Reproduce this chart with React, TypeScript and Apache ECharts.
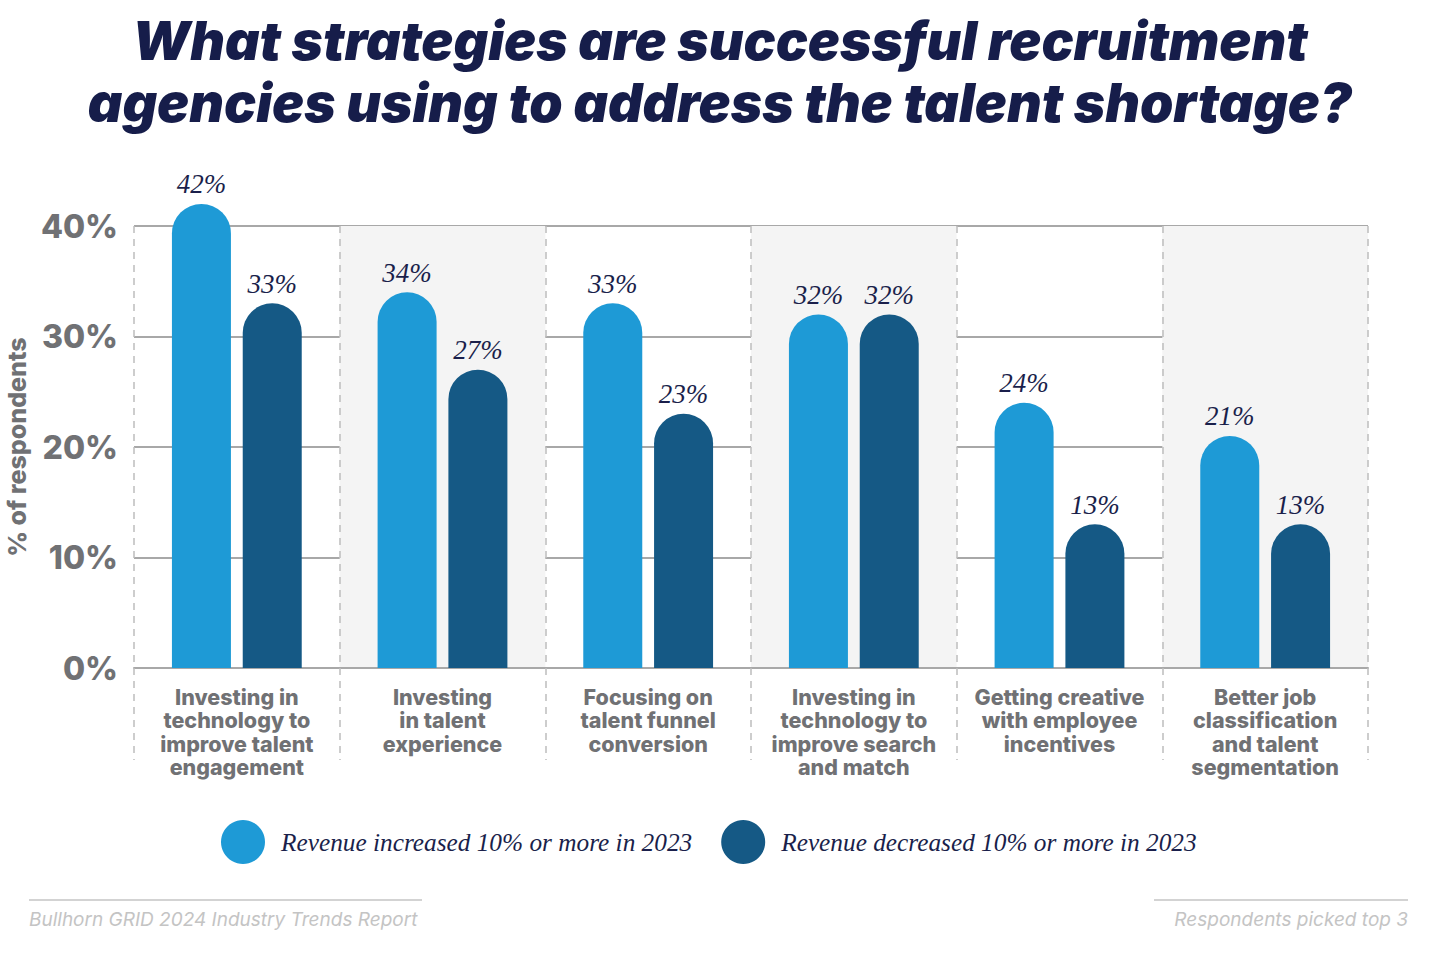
import React, { useEffect, useRef } from "react";
import * as echarts from "echarts";

const categories = [
  "Investing in\ntechnology to\nimprove talent\nengagement",
  "Investing\nin talent\nexperience",
  "Focusing on\ntalent funnel\nconversion",
  "Investing in\ntechnology to\nimprove search\nand match",
  "Getting creative\nwith employee\nincentives",
  "Better job\nclassification\nand talent\nsegmentation",
];
const increasedValues = [42, 34, 33, 32, 24, 21];
const decreasedValues = [33, 27, 23, 32, 13, 13];
const seriesNames = [
  "Revenue increased 10% or more in 2023",
  "Revenue decreased 10% or more in 2023",
];
const titleLines = [
  "What strategies are successful recruitment",
  "agencies using to address the talent shortage?",
];
const sourceText = "Bullhorn GRID 2024 Industry Trends Report";
const noteText = "Respondents picked top 3";

const LIGHT = "#1e9ad6";
const DARK = "#155985";
const NAVY = "#1a1f4b";
const GRAY = "#707174";
const SHADE = "#f4f4f4";
const SERIF = "'Liberation Serif', 'DejaVu Serif', serif";
const SANS = "Inter, 'Open Sans', Lato, sans-serif";

function makeData(values: number[]) {
  return values.map((v, i) => ({
    value: v,
    label: { backgroundColor: i % 2 === 1 ? SHADE : "#ffffff" },
  }));
}

export default function App() {
  const ref = useRef<HTMLDivElement>(null);
  useEffect(() => {
    document.body.style.margin = "0";
    if (!ref.current) return;
    const chart = echarts.init(ref.current, undefined, { renderer: "svg" });
    const labelCfg = {
      show: true,
      position: "top",
      distance: 6,
      formatter: "{c}%",
      fontFamily: SERIF,
      fontStyle: "italic",
      fontSize: 27,
      color: NAVY,
      padding: [0, 3, 0, 3],
    };
    const titleStyle = {
      fontFamily: SANS,
      fontWeight: 900,
      fontStyle: "italic",
      fontSize: 53.5,
      fill: "#161d4a",
    };
    chart.setOption({
      animation: false,
      backgroundColor: "#ffffff",
      grid: {
        left: 134,
        right: 72,
        top: 226,
        bottom: 288,
        containLabel: false,
        outerBoundsMode: "none",
      },
      legend: {
        data: seriesNames,
        left: 221,
        top: 820,
        icon: "circle",
        itemWidth: 44,
        itemHeight: 44,
        itemGap: 29,
        padding: 0,
        textStyle: {
          fontFamily: SERIF,
          fontStyle: "italic",
          fontSize: 25.3,
          color: NAVY,
          padding: [0, 0, 0, 11],
        },
      },
      xAxis: {
        type: "category",
        data: categories,
        axisLine: { show: true, lineStyle: { color: "#a8a8a8", width: 2 } },
        axisTick: {
          show: true,
          interval: 0,
          length: 92,
          lineStyle: { color: "#bdbdbd", type: [7, 6], width: 1.5 },
        },
        axisLabel: {
          interval: 0,
          margin: 17,
          fontFamily: SANS,
          fontWeight: 800,
          fontSize: 21.5,
          lineHeight: 23.5,
          color: GRAY,
          align: "center",
        },
        splitLine: {
          show: true,
          interval: 0,
          lineStyle: { color: "#bdbdbd", type: [7, 6], width: 1.5 },
        },
        splitArea: {
          show: true,
          interval: 0,
          areaStyle: { color: ["rgba(255,255,255,0)", SHADE] },
        },
      },
      yAxis: {
        type: "value",
        min: 0,
        max: 40,
        interval: 10,
        name: "% of respondents",
        nameLocation: "middle",
        nameRotate: 90,
        nameGap: 102,
        nameTextStyle: { fontFamily: SANS, fontWeight: 800, fontSize: 25, color: GRAY },
        axisLine: { show: false },
        axisTick: { show: false },
        axisLabel: {
          formatter: "{value}%",
          margin: 16,
          fontFamily: SANS,
          fontWeight: 800,
          fontSize: 32,
          color: GRAY,
        },
        splitLine: { show: true, lineStyle: { color: "#a8a8a8", width: 2 } },
      },
      series: [
        {
          name: seriesNames[0],
          type: "bar",
          clip: false,
          data: makeData(increasedValues),
          barWidth: 59,
          barGap: "20%",
          itemStyle: { color: LIGHT, borderRadius: [29.5, 29.5, 0, 0] },
          label: labelCfg,
          z: 3,
        },
        {
          name: seriesNames[1],
          type: "bar",
          clip: false,
          data: makeData(decreasedValues),
          barWidth: 59,
          barGap: "20%",
          itemStyle: { color: DARK, borderRadius: [29.5, 29.5, 0, 0] },
          label: labelCfg,
          z: 3,
        },
      ],
      graphic: [
        {
          type: "text",
          left: "center",
          top: 14,
          style: { ...titleStyle, text: titleLines[0] },
        },
        {
          type: "text",
          left: "center",
          top: 76,
          style: { ...titleStyle, text: titleLines[1] },
        },
        {
          type: "line",
          shape: { x1: 29, y1: 900, x2: 422, y2: 900 },
          style: { stroke: "#d3d3d3", lineWidth: 2 },
        },
        {
          type: "line",
          shape: { x1: 1154, y1: 900, x2: 1408, y2: 900 },
          style: { stroke: "#d3d3d3", lineWidth: 2 },
        },
        {
          type: "text",
          left: 29,
          top: 910,
          style: {
            text: sourceText,
            fontFamily: SANS,
            fontStyle: "italic",
            fontSize: 19,
            fill: "#c4c4c4",
          },
        },
        {
          type: "text",
          right: 32,
          top: 910,
          style: {
            text: noteText,
            fontFamily: SANS,
            fontStyle: "italic",
            fontSize: 19,
            fill: "#c4c4c4",
          },
        },
      ],
    });
    return () => chart.dispose();
  }, []);
  return <div ref={ref} style={{ width: 1440, height: 956 }} />;
}
